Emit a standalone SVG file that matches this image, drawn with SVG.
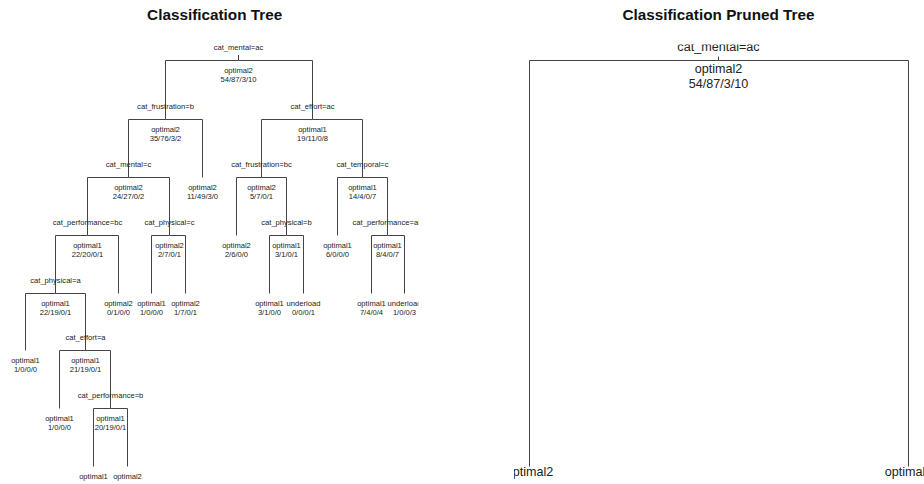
<svg xmlns="http://www.w3.org/2000/svg" width="924" height="484" viewBox="0 0 924 484">
  <style>
    .title { font-family: "Liberation Sans", Arial, sans-serif; font-size: 15.3px; font-weight: bold; fill: #111; text-anchor: middle; }
    .s { font-family: "Liberation Sans", Arial, sans-serif; font-size: 7.6px; fill: #222; text-anchor: middle; }
    .b { font-family: "Liberation Sans", Arial, sans-serif; font-size: 12.6px; fill: #222; text-anchor: middle; }
    .edge { fill: none; stroke: #444; stroke-width: 1; }
  </style>
  <defs>
    <clipPath id="clipLeft"><rect x="0" y="44.5" width="418.5" height="439.5"/></clipPath>
    <clipPath id="clipRight"><rect x="514" y="44.5" width="410" height="439.5"/></clipPath>
  </defs>
  <rect x="0" y="0" width="924" height="484" fill="#fff"/>

  <text class="title" x="214.7" y="20.3">Classification Tree</text>
  <text class="title" x="718.5" y="20.3">Classification Pruned Tree</text>

  <!-- full tree -->
  <g id="full-tree" clip-path="url(#clipLeft)">
    <g id="full-edges" class="edge">
      <path d="M238.5,55 V60.5"/>
      <path d="M238.5,60.5 H165.5 V119.5"/>
      <path d="M238.5,60.5 H312.5 V119.5"/>
      <path d="M165.5,119.5 H128.5 V177.5"/>
      <path d="M165.5,119.5 H202.5 V177.5"/>
      <path d="M312.5,119.5 H261.5 V177.5"/>
      <path d="M312.5,119.5 H362.5 V177.5"/>
      <path d="M128.5,177.5 H87.5 V235.5"/>
      <path d="M128.5,177.5 H169.5 V235.5"/>
      <path d="M261.5,177.5 H236.5 V235.5"/>
      <path d="M261.5,177.5 H286.5 V235.5"/>
      <path d="M362.5,177.5 H337.5 V235.5"/>
      <path d="M362.5,177.5 H387.5 V235.5"/>
      <path d="M87.5,235.5 H55.5 V293.5"/>
      <path d="M87.5,235.5 H118.5 V293.5"/>
      <path d="M169.5,235.5 H151.5 V293.5"/>
      <path d="M169.5,235.5 H185.5 V293.5"/>
      <path d="M286.5,235.5 H269.5 V293.5"/>
      <path d="M286.5,235.5 H303.5 V293.5"/>
      <path d="M387.5,235.5 H371.5 V293.5"/>
      <path d="M387.5,235.5 H404.5 V293.5"/>
      <path d="M55.5,293.5 H25.5 V350.5"/>
      <path d="M55.5,293.5 H85.5 V350.5"/>
      <path d="M85.5,350.5 H59.5 V408.5"/>
      <path d="M85.5,350.5 H110.5 V408.5"/>
      <path d="M110.5,408.5 H93.5 V466.5"/>
      <path d="M110.5,408.5 H127.5 V466.5"/>
    </g>

    <!-- internal nodes: split above the bar, class and counts below -->
    <g id="n1"><text class="s" x="238.5" y="49.8">cat_mental=ac</text><text class="s" x="238.5" y="73.1">optimal2</text><text class="s" x="238.5" y="82">54/87/3/10</text></g>
    <g id="n2"><text class="s" x="165.5" y="108.8">cat_frustration=b</text><text class="s" x="165.5" y="132.1">optimal2</text><text class="s" x="165.5" y="141">35/76/3/2</text></g>
    <g id="n3"><text class="s" x="312.5" y="108.8">cat_effort=ac</text><text class="s" x="312.5" y="132.1">optimal1</text><text class="s" x="312.5" y="141">19/11/0/8</text></g>
    <g id="n4"><text class="s" x="128.5" y="166.8">cat_mental=c</text><text class="s" x="128.5" y="190.1">optimal2</text><text class="s" x="128.5" y="199">24/27/0/2</text></g>
    <g id="n5"><text class="s" x="202.5" y="190.1">optimal2</text><text class="s" x="202.5" y="199">11/49/3/0</text></g>
    <g id="n6"><text class="s" x="261.5" y="166.8">cat_frustration=bc</text><text class="s" x="261.5" y="190.1">optimal2</text><text class="s" x="261.5" y="199">5/7/0/1</text></g>
    <g id="n7"><text class="s" x="362.5" y="166.8">cat_temporal=c</text><text class="s" x="362.5" y="190.1">optimal1</text><text class="s" x="362.5" y="199">14/4/0/7</text></g>
    <g id="n8"><text class="s" x="87.5" y="224.8">cat_performance=bc</text><text class="s" x="87.5" y="248.1">optimal1</text><text class="s" x="87.5" y="257">22/20/0/1</text></g>
    <g id="n9"><text class="s" x="169.5" y="224.8">cat_physical=c</text><text class="s" x="169.5" y="248.1">optimal2</text><text class="s" x="169.5" y="257">2/7/0/1</text></g>
    <g id="n10"><text class="s" x="236.5" y="248.1">optimal2</text><text class="s" x="236.5" y="257">2/6/0/0</text></g>
    <g id="n11"><text class="s" x="286.5" y="224.8">cat_physical=b</text><text class="s" x="286.5" y="248.1">optimal1</text><text class="s" x="286.5" y="257">3/1/0/1</text></g>
    <g id="n12"><text class="s" x="337.5" y="248.1">optimal1</text><text class="s" x="337.5" y="257">6/0/0/0</text></g>
    <g id="n13"><text class="s" x="387.5" y="224.8">cat_performance=ab</text><text class="s" x="387.5" y="248.1">optimal1</text><text class="s" x="387.5" y="257">8/4/0/7</text></g>
    <g id="n14"><text class="s" x="55.5" y="282.8">cat_physical=a</text><text class="s" x="55.5" y="306.1">optimal1</text><text class="s" x="55.5" y="315">22/19/0/1</text></g>
    <g id="n15"><text class="s" x="118.5" y="306.1">optimal2</text><text class="s" x="118.5" y="315">0/1/0/0</text></g>
    <g id="n16"><text class="s" x="151.5" y="306.1">optimal1</text><text class="s" x="151.5" y="315">1/0/0/0</text></g>
    <g id="n17"><text class="s" x="185.5" y="306.1">optimal2</text><text class="s" x="185.5" y="315">1/7/0/1</text></g>
    <g id="n18"><text class="s" x="269.5" y="306.1">optimal1</text><text class="s" x="269.5" y="315">3/1/0/0</text></g>
    <g id="n19"><text class="s" x="303.5" y="306.1">underload</text><text class="s" x="303.5" y="315">0/0/0/1</text></g>
    <g id="n20"><text class="s" x="371.5" y="306.1">optimal1</text><text class="s" x="371.5" y="315">7/4/0/4</text></g>
    <g id="n21"><text class="s" x="404.5" y="306.1">underload</text><text class="s" x="404.5" y="315">1/0/0/3</text></g>
    <g id="n22"><text class="s" x="25.5" y="363.1">optimal1</text><text class="s" x="25.5" y="372">1/0/0/0</text></g>
    <g id="n23"><text class="s" x="85.5" y="339.8">cat_effort=a</text><text class="s" x="85.5" y="363.1">optimal1</text><text class="s" x="85.5" y="372">21/19/0/1</text></g>
    <g id="n24"><text class="s" x="59.5" y="421.1">optimal1</text><text class="s" x="59.5" y="430">1/0/0/0</text></g>
    <g id="n25"><text class="s" x="110.5" y="397.8">cat_performance=b</text><text class="s" x="110.5" y="421.1">optimal1</text><text class="s" x="110.5" y="430">20/19/0/1</text></g>
    <g id="n26"><text class="s" x="93.5" y="479.1">optimal1</text></g>
    <g id="n27"><text class="s" x="127.5" y="479.1">optimal2</text></g>
  </g>

  <!-- pruned tree -->
  <g id="pruned-tree" clip-path="url(#clipRight)">
    <g id="pruned-edges" class="edge">
      <path d="M718.5,56.5 V60.5"/>
      <path d="M718.5,60.5 H529.5 V466.5"/>
      <path d="M718.5,60.5 H908.5 V466.5"/>
    </g>
    <g id="p1"><text class="b" x="718.5" y="51">cat_mental=ac</text><text class="b" x="718.5" y="72.7">optimal2</text><text class="b" x="718.5" y="87.7">54/87/3/10</text></g>
    <g id="p2"><text class="b" x="529.5" y="475.5">optimal2</text></g>
    <g id="p3"><text class="b" x="908.5" y="475.5">optimal1</text></g>
  </g>
</svg>
